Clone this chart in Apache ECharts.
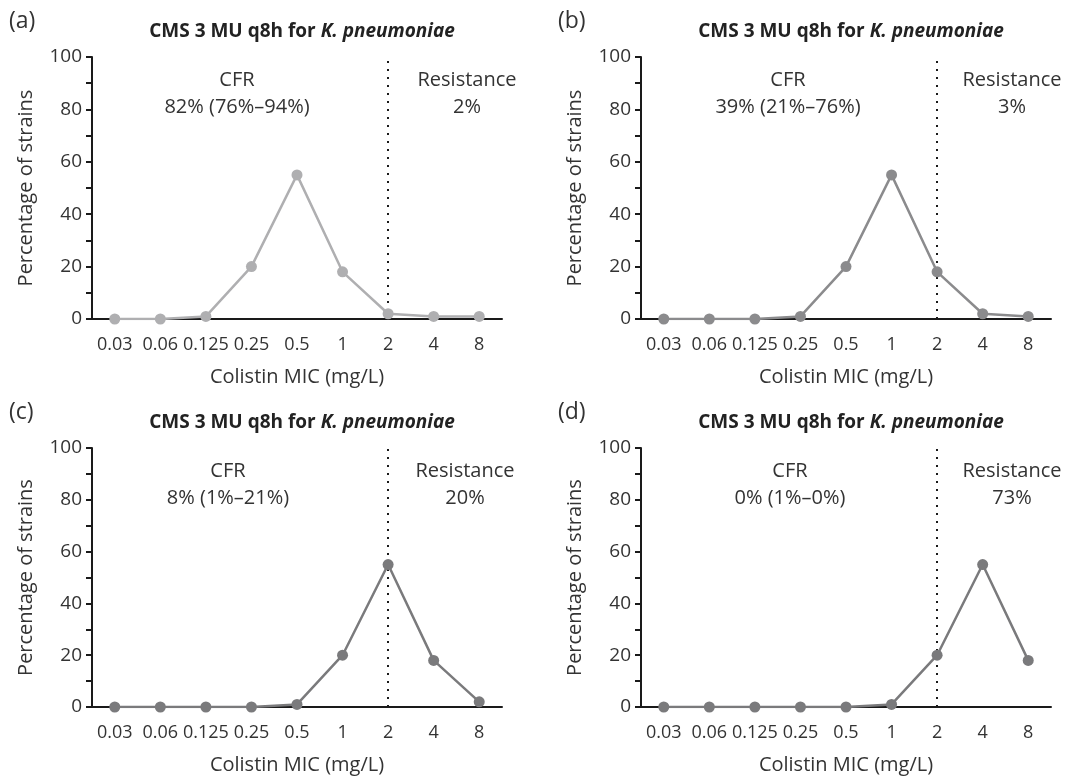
<!DOCTYPE html>
<html>
<head>
<meta charset="utf-8">
<script src="https://cdn.jsdelivr.net/npm/echarts@6/dist/echarts.min.js"></script>
<style>
html, body { margin: 0; padding: 0; background: #fff; }
#main { width: 1079px; height: 776px; }
</style>
</head>
<body>
<div id="main"></div>
<script>
// MIC categories and percentage of strains per panel
var categories = ['0.03', '0.06', '0.125', '0.25', '0.5', '1', '2', '4', '8'];
var valuesA = [0, 0, 1, 20, 55, 18, 2, 1, 1];
var valuesB = [0, 0, 0, 1, 20, 55, 18, 2, 1];
var valuesC = [0, 0, 0, 0, 1, 20, 55, 18, 2];
var valuesD = [0, 0, 0, 0, 0, 1, 20, 55, 18];
var panelLabels = ['(a)', '(b)', '(c)', '(d)'];
var cfrTexts = ['82% (76%–94%)', '39% (21%–76%)', '8% (1%–21%)', '0% (1%–0%)'];
var resistanceTexts = ['2%', '3%', '20%', '73%'];
var breakpoint = '2';

var chart = echarts.init(document.getElementById('main'));
var font = '"Open Sans", "Noto Sans", sans-serif';
var textColor = '#333';

var panels = [
    {data: valuesA, left: 92, top: 57, color: '#afafb1', cfrX: 237, resX: 467},
    {data: valuesB, left: 641, top: 57, color: '#8b8b8d', cfrX: 788, resX: 1012},
    {data: valuesC, left: 92, top: 448, color: '#7a7a7c', cfrX: 228, resX: 465},
    {data: valuesD, left: 641, top: 448, color: '#7a7a7c', cfrX: 790, resX: 1012}
];
var gridW = 410, gridH = 262;

var grids = [], xAxes = [], yAxes = [], series = [], titles = [], graphics = [];

panels.forEach(function (p, i) {
    grids.push({left: p.left, top: p.top, width: gridW, height: gridH});
    xAxes.push({
        type: 'category',
        gridIndex: i,
        data: categories,
        boundaryGap: true,
        name: 'Colistin MIC (mg/L)',
        nameLocation: 'middle',
        nameGap: 48,
        nameTextStyle: {fontFamily: font, fontSize: 20, color: textColor},
        axisLine: {lineStyle: {color: '#1a1a1a', width: 2}},
        axisTick: {alignWithLabel: true, length: 6, lineStyle: {color: '#1a1a1a', width: 2}},
        axisLabel: {interval: 0, fontFamily: font, fontSize: 18, color: textColor, margin: 17},
        splitLine: {show: false}
    });
    yAxes.push({
        type: 'value',
        gridIndex: i,
        min: 0,
        max: 100,
        interval: 20,
        name: 'Percentage of strains',
        nameLocation: 'middle',
        nameGap: 56,
        nameTextStyle: {fontFamily: font, fontSize: 20, color: textColor},
        axisLine: {show: true, lineStyle: {color: '#1a1a1a', width: 2}},
        axisTick: {show: true, length: 6, lineStyle: {color: '#1a1a1a', width: 2}},
        minorTick: {show: true, splitNumber: 2, length: 6, lineStyle: {color: '#1a1a1a', width: 2}},
        axisLabel: {fontFamily: font, fontSize: 19, color: textColor, margin: 10},
        splitLine: {show: false}
    });
    series.push({
        type: 'line',
        xAxisIndex: i,
        yAxisIndex: i,
        data: p.data,
        symbol: 'circle',
        symbolSize: 11,
        lineStyle: {color: p.color, width: 2.5},
        itemStyle: {color: p.color},
        z: 3,
        markLine: {
            silent: true,
            symbol: 'none',
            label: {show: false},
            lineStyle: {color: '#1a1a1a', width: 2, type: [2, 6]},
            data: [{xAxis: breakpoint}],
            z: 1
        }
    });
    titles.push({
        text: '{b|CMS 3 MU q8h for }{i|K. pneumoniae}',
        left: p.left + gridW / 2,
        textAlign: 'center',
        top: p.top - 40,
        textStyle: {
            rich: {
                b: {fontFamily: font, fontSize: 19, fontWeight: 'bold', color: '#222'},
                i: {fontFamily: font, fontSize: 19, fontWeight: 'bold', fontStyle: 'italic', color: '#222'}
            }
        }
    });
    graphics.push({
        type: 'text',
        left: p.left - 83,
        top: p.top - 57 + 10,
        style: {text: panelLabels[i], font: '23px ' + font, fill: textColor}
    });
    graphics.push({
        type: 'text',
        x: p.cfrX,
        y: p.top + 37,
        style: {text: 'CFR\n' + cfrTexts[i], font: '20px ' + font, fill: textColor,
            textAlign: 'center', textVerticalAlign: 'middle', lineHeight: 27}
    });
    graphics.push({
        type: 'text',
        x: p.resX,
        y: p.top + 37,
        style: {text: 'Resistance\n' + resistanceTexts[i], font: '20px ' + font, fill: textColor,
            textAlign: 'center', textVerticalAlign: 'middle', lineHeight: 27}
    });
});

var option = {
    backgroundColor: '#fff',
    animation: false,
    title: titles,
    grid: grids,
    xAxis: xAxes,
    yAxis: yAxes,
    series: series,
    graphic: graphics
};
chart.setOption(option);
</script>
</body>
</html>
